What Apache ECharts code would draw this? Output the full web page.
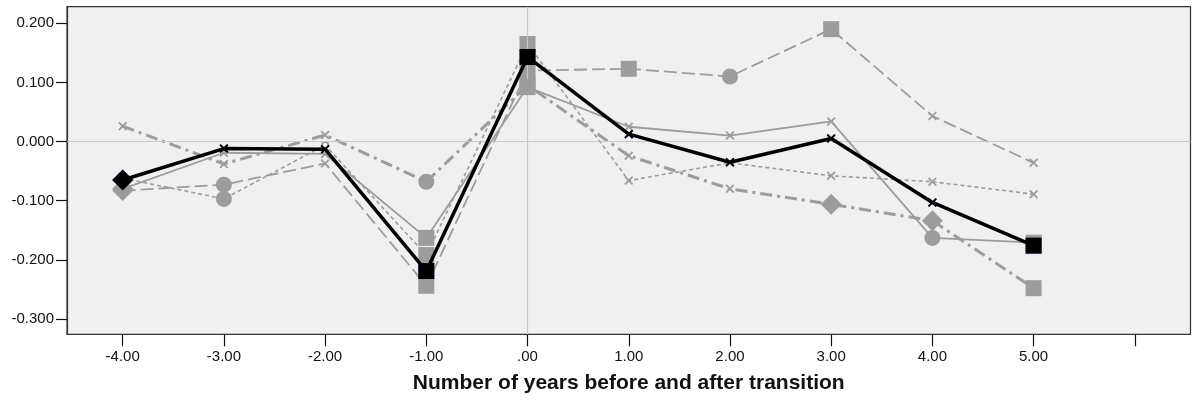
<!DOCTYPE html>
<html><head><meta charset="utf-8">
<script src="https://cdn.jsdelivr.net/npm/echarts@6/dist/echarts.min.js"></script>
<style>html,body{margin:0;padding:0;background:#fff}#c{width:1197px;height:400px}</style>
</head><body><div id="c"></div>
<script>
// Data
const years = [-4, -3, -2, -1, 0, 1, 2, 3, 4, 5];
const xTickValues = [-4, -3, -2, -1, 0, 1, 2, 3, 4, 5, 6];
const yTickValues = [-0.3, -0.2, -0.1, 0, 0.1, 0.2];
const xTitle = 'Number of years before and after transition';

const valuesA = [-0.065, -0.012, -0.013, -0.219, 0.143, 0.0125, -0.035, 0.005, -0.103, -0.176];
const valuesB = [-0.080, -0.019, -0.021, -0.163, 0.092, 0.025, 0.010, 0.034, -0.163, -0.171];
const valuesC = [-0.083, -0.073, -0.037, -0.244, 0.120, 0.123, 0.110, 0.190, 0.043, -0.036];
const valuesD = [-0.062, -0.097, -0.006, -0.192, 0.165, -0.066, -0.036, -0.058, -0.068, -0.089];
const valuesE = [0.026, -0.038, 0.011, -0.068, 0.095, -0.024, -0.080, -0.106, -0.134, -0.248];

// marker kinds per point: D diamond, X cross, S square, C circle, o small ring
const markersA = ['D','X','X','S','S','X','X','X','X','S'];
const markersB = ['D','X','X','S','S','X','X','X','C','S'];
const markersC = ['D','C','X','S','S','S','C','S','X','X'];
const markersD = ['X','C','o','S','S','X','X','X','X','X'];
const markersE = ['X','X','X','C','S','X','X','D','D','S'];

const FONT = "'Liberation Sans', Arial, sans-serif";
const GRAY = '#9c9c9c';
const CROSS = 'path://M0,1.4L1.4,0L5,3.6L8.6,0L10,1.4L6.4,5L10,8.6L8.6,10L5,6.4L1.4,10L0,8.6L3.6,5Z';
const SYM = {
  D: {symbol: 'diamond', size: 21},
  X: {symbol: CROSS, size: 9},
  S: {symbol: 'rect', size: 16},
  C: {symbol: 'circle', size: 16},
  o: {symbol: 'emptyCircle', size: 6}
};

function buildData(vals, marks) {
  return years.map((x, i) => ({
    value: [x, vals[i]],
    symbol: SYM[marks[i]].symbol,
    symbolSize: SYM[marks[i]].size
  }));
}

function lineSeries(name, vals, marks, color, width, type, z) {
  return {
    name, type: 'line', z,
    data: buildData(vals, marks),
    symbolKeepAspect: true,
    showAllSymbol: true,
    itemStyle: {color: color, borderWidth: 0},
    lineStyle: {color: color, width: width, type: type},
    emphasis: {disabled: true},
    animation: false
  };
}

const GRID = {left: 67, right: 6.5, top: 6.7, bottom: 65.7};
const chart = echarts.init(document.getElementById('c'), null, {renderer: 'canvas'});
chart.setOption({
  animation: false,
  backgroundColor: '#ffffff',
  textStyle: {fontFamily: FONT},
  grid: Object.assign({show: true, backgroundColor: '#f0f0f0', borderColor: '#333', borderWidth: 1.2}, GRID),
  xAxis: {
    type: 'value', min: -4.55, max: 6.55,
    axisLine: {show: true, onZero: false, lineStyle: {color: '#333', width: 1.2}},
    axisTick: {show: true, length: 12, customValues: xTickValues, lineStyle: {color: '#111', width: 1.2}},
    axisLabel: {
      customValues: xTickValues, margin: 15, fontSize: 15, color: '#111', fontFamily: FONT,
      formatter: v => v === 6 ? '' : (v === 0 ? '.00' : v.toFixed(2))
    },
    splitLine: {show: false}
  },
  yAxis: {
    type: 'value', min: -0.326, max: 0.228,
    axisLine: {show: true, onZero: false, lineStyle: {color: '#333', width: 1.2}},
    axisTick: {show: true, length: 11, customValues: yTickValues, lineStyle: {color: '#111', width: 1.2}},
    axisLabel: {
      customValues: yTickValues, margin: 13, fontSize: 15, color: '#111', fontFamily: FONT,
      formatter: v => v.toFixed(3)
    },
    splitLine: {show: false}
  },
  graphic: [{
    type: 'text', x: (GRID.left + 1197 - GRID.right) / 2, y: 373,
    style: {text: xTitle, fontSize: 21, fontWeight: 'bold', fontFamily: FONT, fill: '#111', textAlign: 'center'}
  }],
  series: [
    {
      type: 'line', z: 1, data: buildData(valuesA, markersA), symbol: 'none',
      lineStyle: {opacity: 0}, silent: true,
      markLine: {
        silent: true, symbol: ['none', 'none'], label: {show: false},
        lineStyle: {color: '#c8c8c8', width: 1.2, type: 'solid'},
        emphasis: {disabled: true},
        data: [{xAxis: 0}, {yAxis: 0}]
      }
    },
    lineSeries('E', valuesE, markersE, GRAY, 3, [12, 5, 3, 5], 2),
    lineSeries('D', valuesD, markersD, GRAY, 1.6, [4, 3], 3),
    lineSeries('C', valuesC, markersC, GRAY, 1.8, [13, 5], 4),
    lineSeries('B', valuesB, markersB, GRAY, 1.8, 'solid', 5),
    lineSeries('A', valuesA, markersA, '#000', 3.5, 'solid', 6)
  ]
});
</script>
</body></html>
